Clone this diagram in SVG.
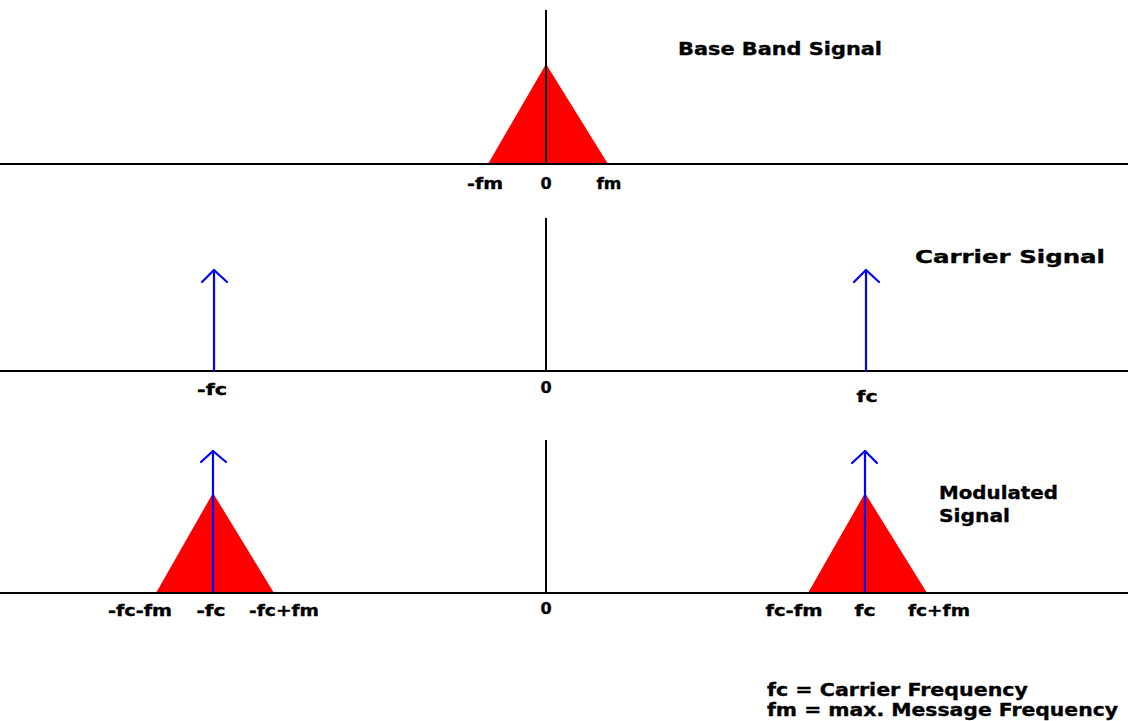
<svg xmlns="http://www.w3.org/2000/svg" width="1128" height="721" viewBox="0 0 1128 721">
<style>
.ax{stroke:#000;stroke-width:2;fill:none}
.bl{stroke:#0000ff;stroke-width:2.2;fill:none;stroke-linecap:round;stroke-linejoin:round}
.tri{fill:#ff0000;stroke:none}
text{font-family:"DejaVu Sans","Liberation Sans",sans-serif;font-weight:bold;fill:#000;stroke:#000;stroke-width:0.35}
.lb{font-size:16px;text-anchor:middle}
.tt{font-size:18px}
</style>
<rect width="1128" height="721" fill="#fff"/>
<g id="baseband">
<polygon class="tri" points="488,164 546,64 608,164"/>
<line class="ax" x1="0" y1="164" x2="1128" y2="164"/>
<line class="ax" x1="546" y1="10" x2="546" y2="164"/>
<text class="lb" x="485" y="189" textLength="36" lengthAdjust="spacingAndGlyphs">-fm</text>
<text class="lb" x="546" y="189">0</text>
<text class="lb" x="609" y="189" textLength="25" lengthAdjust="spacingAndGlyphs">fm</text>
<text class="tt" x="678" y="55" textLength="204" lengthAdjust="spacingAndGlyphs">Base Band Signal</text>
</g>
<g id="carrier">
<line class="ax" x1="0" y1="371" x2="1128" y2="371"/>
<line class="ax" x1="546" y1="218" x2="546" y2="371"/>
<g id="carrier-neg">
<line class="bl" x1="214" y1="371" x2="214" y2="270"/>
<polyline class="bl" points="202,282 214,270 227,282"/>
<text class="lb" x="212" y="395" textLength="30" lengthAdjust="spacingAndGlyphs">-fc</text>
</g>
<g id="carrier-pos">
<line class="bl" x1="866" y1="371" x2="866" y2="270"/>
<polyline class="bl" points="854,282 866,270 879,282"/>
<text class="lb" x="867" y="402" textLength="21" lengthAdjust="spacingAndGlyphs">fc</text>
</g>
<text class="lb" x="546" y="393">0</text>
<text class="tt" x="915" y="263" textLength="190" lengthAdjust="spacingAndGlyphs">Carrier Signal</text>
</g>
<g id="modulated">
<g id="mod-neg">
<polygon class="tri" points="156,593 213,493 274,593"/>
<line class="bl" x1="213" y1="593" x2="213" y2="451"/>
<polyline class="bl" points="201,462 213,451 226,462"/>
</g>
<g id="mod-pos">
<polygon class="tri" points="808,593 865,493 927,593"/>
<line class="bl" x1="865" y1="593" x2="865" y2="451"/>
<polyline class="bl" points="852,463 865,451 877,463"/>
</g>
<line class="ax" x1="0" y1="593" x2="1128" y2="593"/>
<line class="ax" x1="546" y1="440" x2="546" y2="593"/>
<text class="lb" x="140" y="616" textLength="64" lengthAdjust="spacingAndGlyphs">-fc-fm</text>
<text class="lb" x="211" y="616" textLength="29" lengthAdjust="spacingAndGlyphs">-fc</text>
<text class="lb" x="284" y="616" textLength="70" lengthAdjust="spacingAndGlyphs">-fc+fm</text>
<text class="lb" x="546" y="614">0</text>
<text class="lb" x="794" y="616" textLength="57" lengthAdjust="spacingAndGlyphs">fc-fm</text>
<text class="lb" x="865" y="616" textLength="21" lengthAdjust="spacingAndGlyphs">fc</text>
<text class="lb" x="939" y="616" textLength="62" lengthAdjust="spacingAndGlyphs">fc+fm</text>
<text class="tt" x="939" y="499" textLength="119" lengthAdjust="spacingAndGlyphs">Modulated</text>
<text class="tt" x="939" y="522" textLength="71" lengthAdjust="spacingAndGlyphs">Signal</text>
</g>
<g id="legend">
<text class="tt" x="767" y="696" textLength="261" lengthAdjust="spacingAndGlyphs">fc = Carrier Frequency</text>
<text class="tt" x="767" y="716" textLength="351" lengthAdjust="spacingAndGlyphs">fm = max. Message Frequency</text>
</g>
</svg>
